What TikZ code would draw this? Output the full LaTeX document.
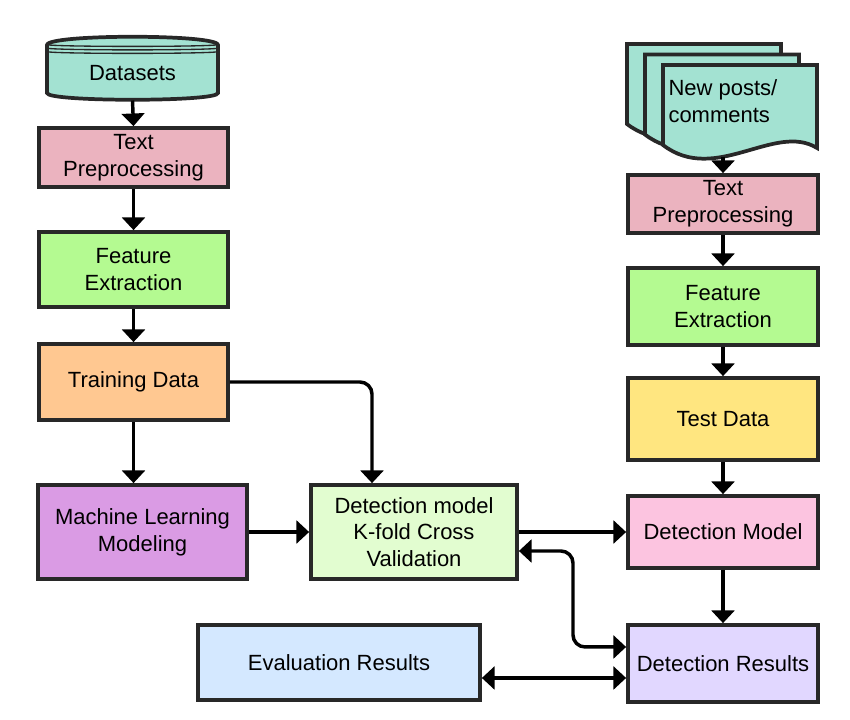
\documentclass[tikz,border=0pt]{standalone}
\usepackage{fontspec}
\setmainfont{Liberation Sans}
\usetikzlibrary{arrows.meta}

\definecolor{edgegray}{RGB}{40,40,40}
\definecolor{tealfill}{RGB}{163,226,210}
\definecolor{prepink}{RGB}{235,179,191}
\definecolor{featgreen}{RGB}{180,250,145}
\definecolor{trainorange}{RGB}{255,200,145}
\definecolor{mlpurple}{RGB}{218,155,228}
\definecolor{kfoldgreen}{RGB}{226,253,208}
\definecolor{evalblue}{RGB}{212,232,255}
\definecolor{reslilac}{RGB}{225,215,255}
\definecolor{modelpink}{RGB}{252,196,224}
\definecolor{testyellow}{RGB}{255,230,128}

\tikzset{every picture/.style={line width=0.75pt}}
\tikzset{
  box/.style={draw=edgegray, line width=2.8pt, align=center, inner sep=0.75pt, font=\fontsize{16.5}{20}\selectfont},
  flowarr/.style={-{Triangle[width=17pt,length=9.5pt]}, line width=2.6pt},
  twoway/.style={{Triangle[width=17pt,length=9.5pt]}-{Triangle[width=17pt,length=9.5pt]}, line width=2.6pt},
}

\begin{document}
\begin{tikzpicture}[x=0.75pt,y=0.75pt,yscale=-1,xscale=1]
%set diagram left start at 0, and has height of 719
\path (0,0) rectangle (850,719);

%Shape: Can
\draw [draw=edgegray, line width=2.8pt, fill=tealfill] (47,45) .. controls (47,34) and (218,34) .. (218,45) -- (218,93) .. controls (218,102) and (47,102) .. (47,93) -- cycle ;
\draw [draw=edgegray, line width=1pt] (47,44.5) .. controls (47,47) and (218,47) .. (218,44.5) ;
\draw [draw=edgegray, line width=1pt] (47,48) .. controls (47,50.5) and (218,50.5) .. (218,48) ;
\draw [draw=edgegray, line width=1pt] (47,51.5) .. controls (47,54) and (218,54) .. (218,51.5) ;

%Shape: Multiple Documents
\draw [draw=edgegray, line width=2.8pt, fill=tealfill, shift={(-36,-21)}] (663,65) -- (817,65) -- (817,148) .. controls (775,122) and (715,185) .. (663,145) -- cycle ;
\draw [draw=edgegray, line width=2.8pt, fill=tealfill, shift={(-18,-10.5)}] (663,65) -- (817,65) -- (817,148) .. controls (775,122) and (715,185) .. (663,145) -- cycle ;
\draw [draw=edgegray, line width=2.8pt, fill=tealfill] (663,65) -- (817,65) -- (817,148) .. controls (775,122) and (715,185) .. (663,145) -- cycle ;

% Text Node
\node (dsets) [font=\fontsize{16.5}{20}\selectfont, inner sep=0.75pt, minimum height=40.5pt] at (132.5,73) {Datasets};
% Text Node
\node (posts) [anchor=west, align=left, font=\fontsize{16.5}{20}\selectfont, inner sep=0.75pt] at (667,101) {New posts/\\comments};
\coordinate (postsbot) at (723,157);

%Left column
\node (tpL) [box, fill=prepink, minimum width=141.75pt, minimum height=44.25pt] at (133.5,157.5) {Text\\Preprocessing};
\node (feL) [box, fill=featgreen, minimum width=141.75pt, minimum height=56.25pt] at (133.5,269.5) {Feature\\Extraction};
\node (tdL) [box, fill=trainorange, minimum width=141.75pt, minimum height=57pt] at (133.5,382) {Training Data};
\node (mlm) [box, fill=mlpurple, minimum width=156.75pt, minimum height=70.5pt] at (142.5,532) {Machine Learning\\Modeling};

%Middle
\node (dmk) [box, fill=kfoldgreen, minimum width=154.5pt, minimum height=70.5pt] at (414,532) {Detection model\\K-fold Cross\\Validation};
\node (evr) [box, fill=evalblue, minimum width=211.5pt, minimum height=56.25pt] at (339,662.5) {Evaluation Results};

%Right column
\node (tpR) [box, fill=prepink, minimum width=142.5pt, minimum height=43.5pt] at (723,204) {Text\\Preprocessing};
\node (feR) [box, fill=featgreen, minimum width=142.5pt, minimum height=57.75pt] at (723,306.5) {Feature\\Extraction};
\node (tsd) [box, fill=testyellow, minimum width=142.5pt, minimum height=61.5pt] at (723,419) {Test Data};
\node (dmo) [box, fill=modelpink, minimum width=142.5pt, minimum height=54pt] at (723,532) {Detection Model};
\node (der) [box, fill=reslilac, minimum width=142.5pt, minimum height=57.75pt] at (723,663.5) {Detection Results};

%Connectors
\draw [flowarr] (dsets.south) -- (tpL.north) ;
\draw [flowarr] (tpL.south) -- (feL.north) ;
\draw [flowarr] (feL.south) -- (tdL.north) ;
\draw [flowarr] (tdL.south) -- (mlm.north -| tdL.south) ;
\draw [flowarr, rounded corners=9pt] (tdL.east) -| ([xshift=-31.5pt]dmk.north) ;
\draw [flowarr] (mlm.east) -- (dmk.west) ;
\draw [flowarr] (dmk.east) -- (dmo.west) ;
\coordinate (loopx) at (573,600);
\draw [twoway, rounded corners=9pt] ([yshift=14.25pt]dmk.east) -| (loopx) |- ([yshift=-12.4pt]der.west) ;
\draw [twoway] ([yshift=11.6pt]evr.east) -- ([yshift=11.6pt]evr.east -| der.west) ;

\draw [flowarr] (postsbot) -- (tpR.north) ;
\draw [flowarr] (tpR.south) -- (feR.north) ;
\draw [flowarr] (feR.south) -- (tsd.north) ;
\draw [flowarr] (tsd.south) -- (dmo.north) ;
\draw [flowarr] (dmo.south) -- (der.north) ;

\end{tikzpicture}
\end{document}
